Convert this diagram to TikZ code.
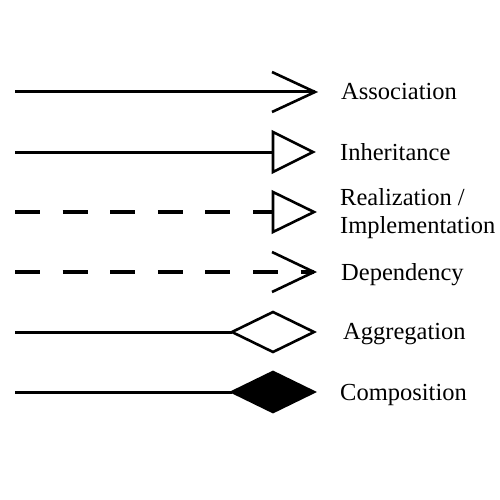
\documentclass[tikz,border=0pt]{standalone}
\usepackage{fontspec}
\setmainfont{Liberation Serif}
\begin{document}
\begin{tikzpicture}[x=1pt,y=-1pt,
  conn/.style={line width=3pt},
  dashconn/.style={line width=3.2pt,dash pattern=on 25pt off 22.6pt},
  head/.style={line width=2.6pt,line join=miter},
  lbl/.style={anchor=base west,inner sep=0pt,font=\fontsize{24.5}{28}\selectfont,align=left}]
\useasboundingbox (0,0) rectangle (500,500);
% Association
\coordinate (as1) at (15,92); \coordinate (as2) at (315,92);
\draw[conn] (as1) -- (as2);
\draw[head] (272,72) -- (as2) -- (272,112);
\node[lbl] (tas) at (341,100) {Association};
% Inheritance
\coordinate (in1) at (15,152); \coordinate (in2) at (273,152);
\draw[conn] (in1) -- (in2);
\draw[head] (273,132) -- (313,152) -- (273,172) -- cycle;
\node[lbl] (tin) at (340,160) {Inheritance};
% Realization
\coordinate (re1) at (15,212); \coordinate (re2) at (273,212);
\draw[dashconn] (re1) -- (re2);
\draw[head] (273,192) -- (314,212) -- (273,232) -- cycle;
\node[lbl] (tre) at (340,205) {Realization /};
\node[lbl] (tim) at (340,233) {Implementation};
% Dependency
\coordinate (de1) at (15,272); \coordinate (de2) at (314,272);
\draw[dashconn] (de1) -- (de2);
\draw[head] (272,252) -- (314,272) -- (272,292);
\node[lbl] (tde) at (341,280) {Dependency};
% Aggregation
\coordinate (ag1) at (15,332); \coordinate (ag2) at (232,332);
\draw[conn] (ag1) -- (ag2);
\draw[head] (ag2) -- (273,312) -- (314,332) -- (273,352) -- cycle;
\node[lbl] (tag) at (343,339) {Aggregation};
% Composition
\coordinate (co1) at (15,392); \coordinate (co2) at (232,392);
\draw[conn] (co1) -- (co2);
\draw[head,fill=black] (co2) -- (273,372) -- (314,392) -- (273,412) -- cycle;
\node[lbl] (tco) at (340,400) {Composition};
\end{tikzpicture}
\end{document}
